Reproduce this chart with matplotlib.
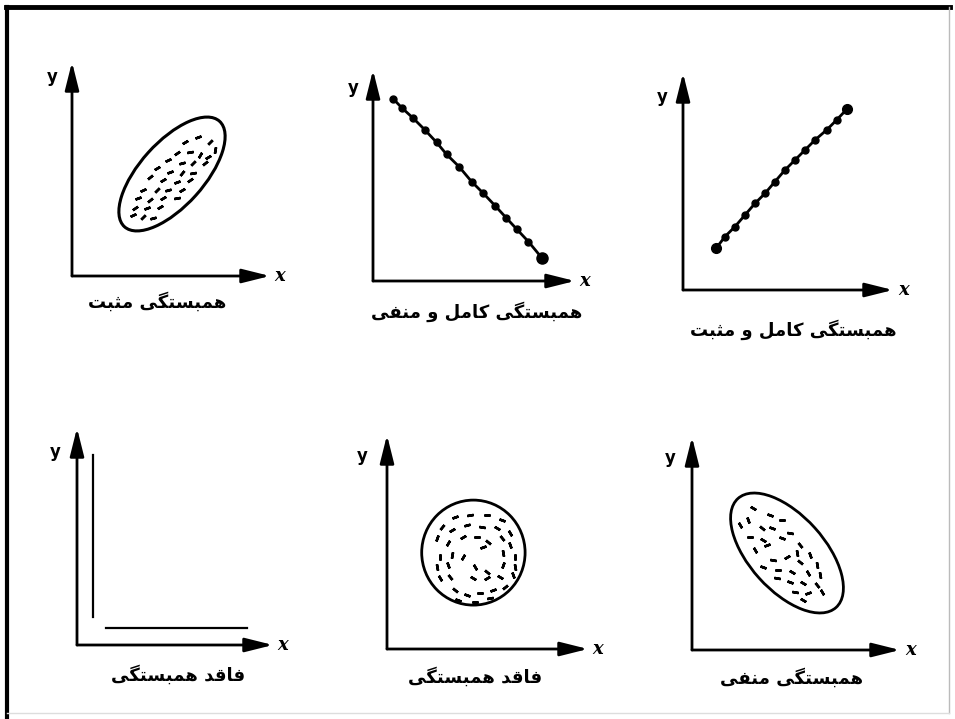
"""
انواع همبستگی - شش نمودار پراکنش
out.png
"""
import matplotlib
matplotlib.use('Agg')
import matplotlib.pyplot as plt
from matplotlib.patches import Ellipse
from matplotlib.lines import Line2D

# ── data ──────────────────────────────────────
labels = ['همبستگی مثبت', 'همبستگی کامل و منفی', 'همبستگی کامل و مثبت',
          'فاقد همبستگی', 'فاقد همبستگی', 'همبستگی منفی']

# positive correlation: dashes inside a rising ellipse
pos_x = [5.65, 6.32, 6.9, 7.15, 5.23, 5.9, 6.4, 6.82, 6.65, 4.82, 5.48, 6.07,
         4.23, 4.9, 5.48, 6.07, 3.9, 4.57, 5.23, 5.9, 3.57, 4.23, 4.82, 5.48,
         3.32, 3.9, 4.57, 5.23, 3.15, 3.73, 4.4, 3.07, 3.57, 4.07]
pos_y = [6.72, 6.97, 6.72, 6.3, 6.13, 6.22, 6.05, 5.97, 5.63, 5.8, 5.63, 5.63,
         5.38, 5.22, 5.13, 5.13, 4.97, 4.8, 4.72, 4.8, 4.3, 4.3, 4.3, 4.3,
         3.88, 3.8, 3.88, 3.88, 3.38, 3.38, 3.47, 3.05, 2.97, 2.88]
pos_ang = [30, 20, 45, 80, 35, 10, 60, 30, 40, 25, 15, 45,
           30, 20, 50, 10, 40, 30, 20, 35, 25, 45, 15, 30,
           20, 40, 30, 10, 35, 20, 30, 25, 45, 15]

# perfect negative correlation
neg_line_x = [1.02, 1.43, 2.02, 2.6, 3.18, 3.68, 4.3, 4.93, 5.52, 6.1, 6.65, 7.18, 7.77, 8.43]
neg_line_y = [9.1, 8.67, 8.13, 7.55, 6.93, 6.33, 5.72, 4.97, 4.38, 3.77, 3.17, 2.6, 1.97, 1.17]

# perfect positive correlation
pos_line_x = [1.65, 2.1, 2.6, 3.1, 3.6, 4.1, 4.6, 5.1, 5.6, 6.1, 6.6, 7.18, 7.68, 8.18]
pos_line_y = [2.08, 2.67, 3.17, 3.75, 4.33, 4.83, 5.42, 6.0, 6.5, 7.0, 7.5, 8.0, 8.5, 9.03]

# no correlation: one vertical and one horizontal run
vert_x = [0.78, 0.78]
vert_y = [1.42, 9.5]
horiz_x = [1.45, 8.52]
horiz_y = [0.83, 0.83]

# no correlation: dashes inside a circle
circ_x = [3.4, 4.15, 4.98, 5.73, 2.73, 3.23, 3.98, 4.73, 5.48, 6.15,
          2.48, 3.07, 3.82, 4.48, 5.07, 5.73, 6.15, 2.65, 3.23, 3.82,
          4.82, 5.82, 6.4, 2.48, 3.07, 4.4, 4.98, 5.82, 6.4, 2.65,
          3.15, 4.32, 4.98, 5.65, 6.32, 3.4, 3.98, 4.65, 5.32, 5.9,
          3.57, 4.4, 5.15]
circ_y = [6.62, 6.7, 6.7, 6.45, 6.12, 5.95, 6.2, 6.12, 6.03, 5.78,
          5.53, 5.28, 5.62, 5.62, 5.37, 5.53, 5.2, 4.62, 4.7, 4.62,
          5.12, 4.78, 4.62, 4.12, 4.2, 4.12, 3.87, 4.2, 4.12, 3.53,
          3.62, 3.53, 3.53, 3.62, 3.7, 2.95, 2.7, 2.78, 2.95, 3.12,
          2.45, 2.37, 2.53]
circ_ang = [20, 10, 0, -20, 50, 30, 15, -10, -30, -60,
            70, 60, 30, 0, -40, -50, -70, 90, 80, 60,
            20, -80, 90, 100, 110, 120, 140, 70, 100, 120,
            130, 150, 30, 150, 110, 140, 160, 0, 20, 40,
            160, 0, 10]

# negative correlation: dashes inside a falling ellipse
neg_x = [3.07, 3.9, 4.48, 2.4, 2.82, 3.48, 3.98, 4.9, 2.9, 3.57, 4.48,
         5.4, 3.15, 3.73, 5.23, 5.9, 4.07, 4.73, 5.4, 6.23, 3.57, 4.32,
         4.98, 5.82, 6.4, 4.23, 4.9, 5.57, 6.23, 5.15, 5.82, 6.48, 5.57]
neg_y = [7.08, 6.75, 6.5, 6.25, 6.5, 6.08, 6.08, 5.83, 5.67, 5.5, 5.58,
         5.25, 5.0, 5.25, 4.83, 4.75, 4.5, 4.67, 4.42, 4.25, 4.17, 4.0,
         3.92, 3.83, 3.75, 3.58, 3.42, 3.33, 3.25, 2.92, 2.83, 2.92, 2.5]
neg_ang = [-30, -20, 0, -60, -70, -40, -20, -10, 0, -30, -20,
           -50, -60, 20, -80, -70, -10, 30, -40, -80, -20, 0,
           -30, -60, -80, -10, -20, -30, -50, -10, 20, -60, -30]

# ── helpers ───────────────────────────────────
FORMS = {
    'ا': ('\uFE8D', '\uFE8E'),
    'ب': ('\uFE8F', '\uFE90', '\uFE91', '\uFE92'),
    'ت': ('\uFE95', '\uFE96', '\uFE97', '\uFE98'),
    'ث': ('\uFE99', '\uFE9A', '\uFE9B', '\uFE9C'),
    'د': ('\uFEA9', '\uFEAA'),
    'س': ('\uFEB1', '\uFEB2', '\uFEB3', '\uFEB4'),
    'ف': ('\uFED1', '\uFED2', '\uFED3', '\uFED4'),
    'ق': ('\uFED5', '\uFED6', '\uFED7', '\uFED8'),
    'ک': ('\uFB8E', '\uFB8F', '\uFB90', '\uFB91'),
    'گ': ('\uFB92', '\uFB93', '\uFB94', '\uFB95'),
    'ل': ('\uFEDD', '\uFEDE', '\uFEDF', '\uFEE0'),
    'م': ('\uFEE1', '\uFEE2', '\uFEE3', '\uFEE4'),
    'ن': ('\uFEE5', '\uFEE6', '\uFEE7', '\uFEE8'),
    'ه': ('\uFEE9', '\uFEEA', '\uFEEB', '\uFEEC'),
    'و': ('\uFEED', '\uFEEE'),
    'ی': ('\uFBFC', '\uFBFD', '\uFBFE', '\uFBFF'),
}


def farsi(s):
    # matplotlib has no arabic shaping: pick contextual forms, then reverse
    out = []
    for i, ch in enumerate(s):
        if ch not in FORMS:
            out.append(ch)
            continue
        f = FORMS[ch]
        prev = s[i - 1] if i > 0 else ''
        nxt = s[i + 1] if i + 1 < len(s) else ''
        jp = prev in FORMS and len(FORMS[prev]) == 4
        jn = len(f) == 4 and nxt in FORMS
        if jp and jn:
            out.append(f[3])
        elif jp:
            out.append(f[1])
        elif jn:
            out.append(f[2])
        else:
            out.append(f[0])
    return ''.join(reversed(out))


def dashes(ax, xs, ys, angs):
    for x, y, a in zip(xs, ys, angs):
        ax.plot(x, y, ls='none', marker=(2, 2, a - 90), ms=4.5, mew=1.8, color='k')


# ── layout (pixels: origin x, origin y, width, height) ──
W_PX, H_PX = 955, 719
boxes = [(72, 276, 198, 214), (373, 281, 202, 211), (683, 290, 210, 217),
         (77, 645, 196, 217), (387, 649, 201, 214), (692, 650, 208, 213)]
label_pos = [(0.43, -0.12), (0.515, -0.147), (0.524, -0.184),
             (0.515, -0.138), (0.438, -0.131), (0.48, -0.131)]
y_pos = [(-0.10, 0.93), (-0.10, 0.915), (-0.10, 0.89),
         (-0.11, 0.89), (-0.125, 0.90), (-0.105, 0.90)]

fig = plt.figure(figsize=(W_PX / 100, H_PX / 100), dpi=100)
fig.patch.set_facecolor('white')

arrow = dict(arrowstyle='-|>,head_length=1.0,head_width=0.25',
             lw=2.0, color='k', mutation_scale=17, shrinkA=0, shrinkB=0)
axes = []
for i, (ox, oy, w, h) in enumerate(boxes):
    ax = fig.add_axes([ox / W_PX, (H_PX - oy) / H_PX, w / W_PX, h / H_PX])
    ax.set_xlim(0, w / 20)
    ax.set_ylim(0, h / 20)
    ax.axis('off')
    ax.annotate('', xy=(1, 0), xytext=(0, 0), xycoords='axes fraction', arrowprops=arrow)
    ax.annotate('', xy=(0, 1), xytext=(0, 0), xycoords='axes fraction', arrowprops=arrow)
    ax.text(y_pos[i][0], y_pos[i][1], 'y', transform=ax.transAxes, ha='center', va='center',
            fontsize=12, fontweight='bold', family='DejaVu Sans')
    ax.text(1.05, 0.0, 'x', transform=ax.transAxes, ha='center', va='center',
            fontsize=13, style='italic', fontweight='bold', family='DejaVu Serif')
    ax.text(label_pos[i][0], label_pos[i][1], farsi(labels[i]), transform=ax.transAxes,
            ha='center', va='center', fontsize=13, fontweight='bold', family='DejaVu Sans')
    axes.append(ax)

# 1. positive correlation
axes[0].add_patch(Ellipse((5.0, 5.1), 7.1, 3.2, angle=48, fill=False, lw=2.2, ec='k'))
dashes(axes[0], pos_x, pos_y, pos_ang)

# 2. perfect negative
axes[1].plot(neg_line_x, neg_line_y, '-o', color='k', lw=2.0, ms=5)
axes[1].plot(neg_line_x[-1], neg_line_y[-1], 'o', color='k', ms=8)

# 3. perfect positive
axes[2].plot(pos_line_x, pos_line_y, '-o', color='k', lw=2.0, ms=5)
axes[2].plot([pos_line_x[0], pos_line_x[-1]], [pos_line_y[0], pos_line_y[-1]], 'o', color='k', ms=7)

# 4. no correlation (lines)
axes[3].plot(vert_x, vert_y, color='k', lw=1.6)
axes[3].plot(horiz_x, horiz_y, color='k', lw=1.6)

# 5. no correlation (circle)
axes[4].add_patch(Ellipse((4.32, 4.82), 5.17, 5.25, fill=False, lw=2.0, ec='k'))
dashes(axes[4], circ_x, circ_y, circ_ang)

# 6. negative correlation
axes[5].add_patch(Ellipse((4.75, 4.85), 7.33, 3.75, angle=-48, fill=False, lw=2.0, ec='k'))
dashes(axes[5], neg_x, neg_y, neg_ang)

# frame of the scanned page
fig.add_artist(Line2D([6 / W_PX, 950 / W_PX], [712 / H_PX, 712 / H_PX], color='k', lw=3.5))
fig.add_artist(Line2D([7 / W_PX, 7 / W_PX], [0, 712 / H_PX], color='k', lw=3))
fig.add_artist(Line2D([949 / W_PX, 949 / W_PX], [6 / H_PX, 712 / H_PX], color='#bbbbbb', lw=1))
fig.add_artist(Line2D([7 / W_PX, 949 / W_PX], [6 / H_PX, 6 / H_PX], color='#dddddd', lw=1))

fig.savefig('out.png', dpi=100, facecolor='white')
